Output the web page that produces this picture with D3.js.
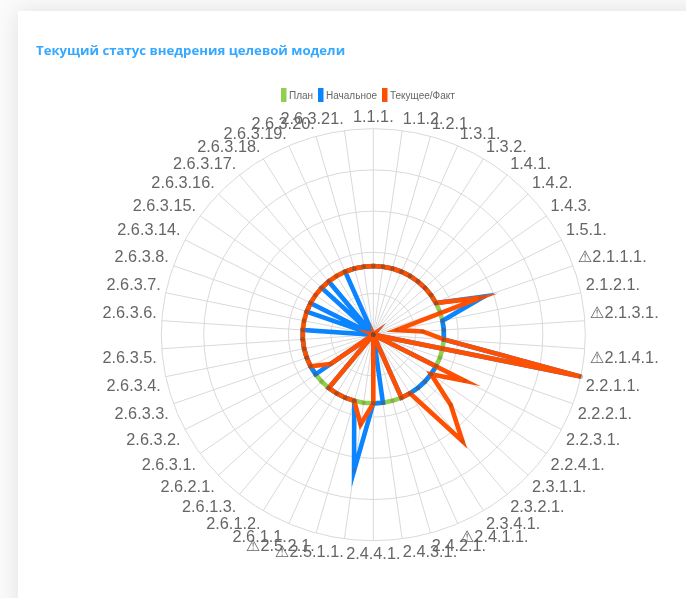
<!DOCTYPE html>
<html>
<head>
<meta charset="utf-8">
<script src="https://cdnjs.cloudflare.com/ajax/libs/d3/7.8.5/d3.min.js"></script>
<style>
  html, body { margin: 0; padding: 0; background: #fbfbfb; overflow: hidden; }
  #card { position: absolute; left: 18px; top: 11px; width: 700px; height: 620px; background: #fff; box-shadow: 0 0 22px rgba(0,0,0,.11); }
  svg { position: absolute; left: 0; top: 0; filter: blur(0.4px); }
  text { font-family: "Liberation Sans", "DejaVu Sans", sans-serif; fill: #666; }
</style>
</head>
<body>
<div id="card"></div>
<svg id="chart" width="686" height="598"></svg>
<script>
var title = "Текущий статус внедрения целевой модели";

var labels = ["1.1.1.", "1.1.2.", "1.2.1.", "1.3.1.", "1.3.2.", "1.4.1.", "1.4.2.", "1.4.3.", "1.5.1.",
  "⚠2.1.1.1.", "2.1.2.1.", "⚠2.1.3.1.", "⚠2.1.4.1.", "2.2.1.1.", "2.2.2.1.", "2.2.3.1.", "2.2.4.1.",
  "2.3.1.1.", "2.3.2.1.", "2.3.4.1.", "⚠2.4.1.1.", "2.4.2.1.", "2.4.3.1.", "2.4.4.1.",
  "⚠2.5.1.1.", "⚠2.5.2.1.", "2.6.1.1.", "2.6.1.2.", "2.6.1.3.", "2.6.2.1.",
  "2.6.3.1.", "2.6.3.2.", "2.6.3.3.", "2.6.3.4.", "2.6.3.5.", "2.6.3.6.", "2.6.3.7.", "2.6.3.8.",
  "2.6.3.14.", "2.6.3.15.", "2.6.3.16.", "2.6.3.17.", "2.6.3.18.", "2.6.3.19.", "2.6.3.20.", "2.6.3.21."];

var plan = [5,5,5,5,5,5,5,5,5, 5,5,5,5,5,5,5,5, 5,5,5,5,5,5,5, 5,5,5,5,5,5, 5,5,5,5,5,5,5,5, 5,5,5,5,5,5,5,5];
var initial = [5,5,5,5,5,5,5,5,5, 8.3,5,5,5,15,0,5,5, 5,5,5,5,0,5,5, 10,5,5,5,5,0, 5,5,5,5,5,5,0,5, 5,0,5,5,0,5,5,5];
var current = [5,5,5,5,5,5,5,5,5, 8,1.7,3.5,5,15,0,7.3,5, 7.5,10,5,5,0,0,5, 6.6,5,5,5,5,0, 3.7,5,5,5,5,5,5,5, 5,5,5,5,5,5,5,5];

var seriesNames = ["План", "Начальное", "Текущее/Факт"];
var seriesColors = ["#8fd14f", "#0a84ff", "#ff4f00"];
var seriesValues = [plan, initial, current];
var ringTicks = [3, 6, 9, 12, 15];

var cx = 373.3, cy = 334.7;
var squash = 206 / 212; // the picture is a little wider than tall
var svg = d3.select("#chart");

var angle = d3.scaleLinear().domain([0, labels.length]).range([0, 2 * Math.PI]);
var radius = d3.scaleLinear().domain([0, 15]).range([0, 212]);

var px = function(i, r) { return Math.sin(angle(i)) * r; };
var py = function(i, r) { return -Math.cos(angle(i)) * r * squash; };

svg.append("text")
  .attr("x", 36).attr("y", 55)
  .style("font-family", "'Open Sans'").style("font-size", "13.2px").style("font-weight", 700)
  .style("fill", "#35a8ff")
  .text(title);

// legend, boxes and text are placed one after another
var legendX = [281, 318, 382];
var legend = svg.append("g").selectAll("g").data(seriesNames).enter().append("g")
  .attr("transform", function(d, i) { return "translate(" + legendX[i] + ",88)"; });
legend.append("rect").attr("width", 5.5).attr("height", 14)
  .attr("fill", function(d, i) { return seriesColors[i]; });
legend.append("text").attr("x", 8).attr("y", 11)
  .style("font-size", "10px")
  .text(function(d) { return d; });

var plot = svg.append("g").attr("transform", "translate(" + cx + "," + cy + ")");

plot.selectAll(".ring").data(ringTicks).enter().append("ellipse")
  .attr("class", "ring")
  .attr("rx", function(d) { return radius(d); })
  .attr("ry", function(d) { return radius(d) * squash; })
  .attr("fill", "none").attr("stroke", "#d9d9d9");

plot.selectAll(".spoke").data(labels).enter().append("line")
  .attr("class", "spoke")
  .attr("x2", function(d, i) { return px(i, radius(15)); })
  .attr("y2", function(d, i) { return py(i, radius(15)); })
  .attr("stroke", "#d9d9d9");

var line = d3.line()
  .x(function(d, i) { return px(i, radius(d)); })
  .y(function(d, i) { return py(i, radius(d)); })
  .curve(d3.curveLinearClosed);

seriesValues.forEach(function(values, s) {
  plot.append("path")
    .attr("d", line(values))
    .attr("fill", "none")
    .attr("stroke", seriesColors[s])
    .attr("stroke-width", 4.6)
    .attr("stroke-miterlimit", 10);
});

// small semi transparent point markers on top of the lines
seriesValues.forEach(function(values) {
  plot.append("g").selectAll("circle").data(values).enter().append("circle")
    .attr("cx", function(d, i) { return px(i, radius(d)); })
    .attr("cy", function(d, i) { return py(i, radius(d)); })
    .attr("r", 2.2)
    .attr("fill", "rgba(110,70,50,.25)");
});

plot.selectAll(".label").data(labels).enter().append("text")
  .attr("class", "label")
  .attr("x", function(d, i) { return px(i, radius(15) + 5); })
  .attr("y", function(d, i) {
    var y = py(i, radius(15) + 5);
    return y + (angle(i) > Math.PI / 2 && angle(i) < 3 * Math.PI / 2 ? 8 : -8);
  })
  .attr("dy", "0.35em")
  .attr("text-anchor", function(d, i) {
    if (i === 0 || i === labels.length / 2) return "middle";
    return i < labels.length / 2 ? "start" : "end";
  })
  .style("font-size", "16.3px")
  .text(function(d) { return d; });
</script>
</body>
</html>
